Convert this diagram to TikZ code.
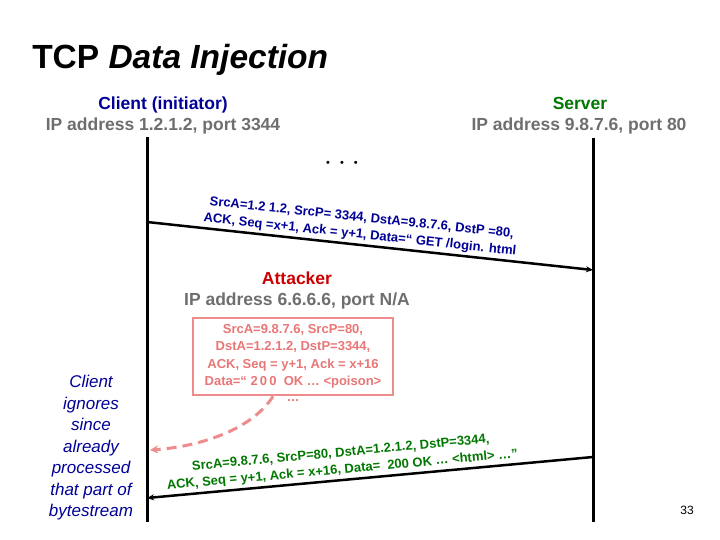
\documentclass[tikz,border=0pt]{standalone}
\usepackage{fontspec}
\setmainfont{Liberation Sans}
\usetikzlibrary{arrows.meta,positioning}
\definecolor{ink}{RGB}{0,0,0}
\definecolor{clientblue}{RGB}{0,0,150}
\definecolor{servergreen}{RGB}{0,120,0}
\definecolor{addrgray}{RGB}{110,110,110}
\definecolor{attackred}{RGB}{204,0,0}
\definecolor{spoof}{RGB}{232,118,118}
\definecolor{spoofline}{RGB}{238,140,140}
\tikzset{
  every picture/.style={color=ink, line width=0.5pt},
  title/.style={font=\bfseries\fontsize{33.5}{40}\selectfont, inner sep=0pt},
  who/.style={font=\bfseries\fontsize{17.5}{20}\selectfont, inner sep=0pt, anchor=base},
  addr/.style={who, text=addrgray},
  lifeline/.style={line width=3pt},
  msg/.style={-{Stealth[length=7pt,width=6pt]}, line width=2.5pt},
  pkt/.style={font=\bfseries\fontsize{13}{17}\selectfont, align=center, inner sep=2.5pt},
  spoofbox/.style={draw=spoofline, line width=2.8pt, text=spoof, minimum width=200pt, minimum height=77pt,
    align=center, font=\bfseries\fontsize{13}{17.5}\selectfont, inner sep=2pt},
  fakeflow/.style={-{Stealth[length=8pt,width=8pt]}, dash pattern=on 10pt off 6pt, line width=3pt, color=spoofline},
  note/.style={font=\itshape\fontsize{17}{21.5}\selectfont, text=clientblue, align=center, inner sep=0pt},
  pagenum/.style={font=\fontsize{12}{14}\selectfont, inner sep=0pt},
}

\begin{document}
\begin{tikzpicture}[x=1pt, y=-1pt]
  \useasboundingbox (0,0) rectangle (720,540);
  % heading and the two end points
  \node[title, anchor=base west] (head) at (32,69) {TCP \textit{Data Injection}};
  \node[who, text=clientblue] (client) at (163,110) {Client (initiator)};
  \node[addr] (clientip) at (163,131) {IP address 1.2.1.2, port 3344};
  \node[who, text=servergreen] (server) at (580,110) {Server};
  \node[addr] (serverip) at (579,131) {IP address 9.8.7.6, port 80};
  \coordinate (cTop) at (147,137);
  \coordinate (cBot) at (147,522);
  \coordinate (sTop) at (593,138);
  \coordinate (sBot) at (593,522);
  \draw[lifeline] (cTop) -- (cBot);
  \draw[lifeline] (sTop) -- (sBot);
  \node[font=\fontsize{11}{13}\selectfont, inner sep=0pt] (gap) at (342,164) {•\hspace{10pt}•\hspace{10pt}•};
  % request from the client
  \coordinate (c1) at (147,222);
  \coordinate (s1) at (593,270);
  \draw[msg] (c1) -- node[pkt, sloped, above, pos=0.475, text=clientblue] (req)
    {SrcA=1.2 1.2, SrcP= 3344, DstA=9.8.7.6, DstP =80,\\ACK, Seq =x+1, Ack = y+1, Data=`` GET /login. html} (s1);
  % the forged reply
  \node[who, text=attackred] (attacker) at (297,284) {Attacker};
  \node[addr] (attackerip) at (297,305) {IP address 6.6.6.6, port N/A};
  \node[spoofbox] (fake) at (293,356.5) {SrcA=9.8.7.6, SrcP=80,\\DstA=1.2.1.2, DstP=3344,\\ACK, Seq = y+1, Ack = x+16\\Data=`` 2\,0\,0~ OK … <poison>};
  \node[pkt, text=spoof, below=0pt of fake] (more) {…};
  \coordinate (c3) at (150,450);
  \draw[fakeflow] ([xshift=-20pt]fake.south) .. controls (250,432) and (195,447) .. (c3);
  % the real reply comes too late
  \coordinate (s2) at (593,457);
  \coordinate (c2) at (147,498);
  \draw[msg] (s2) -- node[pkt, sloped, above, pos=0.56, text=servergreen] (resp)
    {SrcA=9.8.7.6, SrcP=80, DstA=1.2.1.2, DstP=3344,\\ACK, Seq = y+1, Ack = x+16, Data= ~200 OK … <html> …''} (c2);
  \node[note] (ignore) at (91,448) {Client\\ignores\\since\\already\\processed\\that part of\\bytestream};
  \node[pagenum] (page) at (687,510) {33};
\end{tikzpicture}
\end{document}
